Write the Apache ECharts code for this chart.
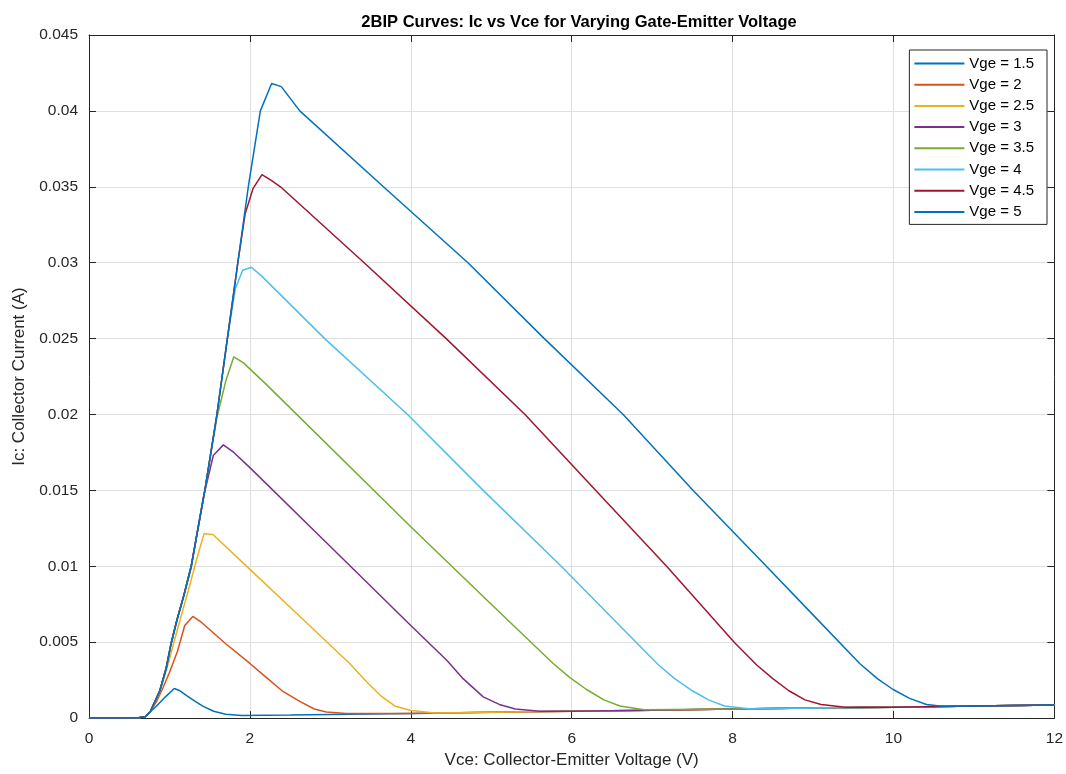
<!DOCTYPE html>
<html>
<head>
<meta charset="utf-8">
<script src="https://cdn.jsdelivr.net/npm/echarts@6/dist/echarts.min.js"></script>
<style>
html,body{margin:0;padding:0;background:#fff;}
#chart{width:1066px;height:774px;}
</style>
</head>
<body>
<div id="chart"></div>
<script>
// ---- Data (Vce [V], Ic [A]) ----
const seriesNames = ['Vge = 1.5','Vge = 2','Vge = 2.5','Vge = 3','Vge = 3.5','Vge = 4','Vge = 4.5','Vge = 5'];
const seriesColors = ['#0072BD','#D95319','#EDB120','#7E2F8E','#77AC30','#4DBEEE','#A2142F','#0072BD'];
const xTicks = [0, 2, 4, 6, 8, 10, 12];
const yTicks = [0, 0.005, 0.01, 0.015, 0.02, 0.025, 0.03, 0.035, 0.04, 0.045];

const vge15 = [[0,0],[0.6,0],[0.7,0.0001],[0.76,0.0004],[0.84,0.0008],[0.95,0.0014],[1.06,0.00195],[1.13,0.0018],[1.21,0.0015],[1.32,0.0011],[1.42,0.00077],[1.55,0.00045],[1.7,0.00025],[1.9,0.00017],[2.5,0.0002],[3,0.00024],[4,0.00031],[5,0.00038],[6,0.00045],[7,0.00052],[8,0.0006],[9,0.00066],[10,0.00072],[11,0.0008],[12,0.00087]];
const vge20 = [[0,0],[0.6,0],[0.7,0.0001],[0.76,0.0004],[0.84,0.0011],[0.92,0.002],[1.0,0.003],[1.1,0.0044],[1.19,0.0061],[1.29,0.0067],[1.4,0.0063],[1.7,0.0049],[2.0,0.0036],[2.2,0.0027],[2.4,0.0018],[2.62,0.0011],[2.8,0.0006],[2.95,0.0004],[3.2,0.0003],[4,0.00031],[5,0.00038],[6,0.00045],[7,0.00052],[8,0.0006],[9,0.00066],[10,0.00072],[11,0.0008],[12,0.00087]];
const vge25 = [[0,0],[0.6,0],[0.7,0.0001],[0.76,0.0004],[0.88,0.0017],[0.97,0.0033],[1.05,0.0049],[1.15,0.0068],[1.25,0.0087],[1.34,0.0105],[1.43,0.01215],[1.54,0.0121],[2.0,0.0098],[2.5,0.0073],[3.0,0.0048],[3.24,0.0036],[3.45,0.0024],[3.62,0.0015],[3.8,0.0008],[4.0,0.0005],[4.3,0.00034],[5,0.00038],[6,0.00045],[7,0.00052],[8,0.0006],[9,0.00066],[10,0.00072],[11,0.0008],[12,0.00087]];
const vge30 = [[0,0],[0.6,0],[0.7,0.0001],[0.76,0.0004],[0.88,0.0018],[0.96,0.0033],[1.02,0.0049],[1.09,0.0064],[1.18,0.0081],[1.27,0.0099],[1.42,0.0145],[1.545,0.0173],[1.67,0.018],[1.8,0.0175],[2.0,0.0165],[3.0,0.0113],[4.0,0.0061],[4.45,0.0038],[4.65,0.0026],[4.9,0.0014],[5.1,0.0009],[5.3,0.0006],[5.6,0.00045],[6,0.00045],[7,0.00052],[8,0.0006],[9,0.00066],[10,0.00072],[11,0.0008],[12,0.00087]];
const vge35 = [[0,0],[0.6,0],[0.7,0.0001],[0.76,0.0004],[0.88,0.0018],[0.96,0.0033],[1.02,0.0049],[1.09,0.0064],[1.18,0.0081],[1.27,0.01],[1.44,0.015],[1.59,0.0198],[1.7,0.0222],[1.8,0.0238],[1.92,0.0234],[2.2,0.022],[4.0,0.0126],[5.0,0.0075],[5.77,0.0036],[5.97,0.0027],[6.18,0.0019],[6.4,0.0012],[6.6,0.0008],[6.9,0.00055],[8,0.0006],[9,0.00066],[10,0.00072],[11,0.0008],[12,0.00087]];
const vge40 = [[0,0],[0.6,0],[0.7,0.0001],[0.76,0.0004],[0.88,0.0018],[0.96,0.0033],[1.02,0.0049],[1.09,0.0064],[1.18,0.0081],[1.27,0.01],[1.44,0.015],[1.59,0.02],[1.72,0.025],[1.82,0.0283],[1.91,0.0295],[2.02,0.0297],[2.15,0.0291],[2.93,0.025],[3.96,0.02],[4.9,0.015],[5.87,0.01],[6.8,0.005],[7.08,0.0035],[7.28,0.0026],[7.5,0.0018],[7.7,0.0012],[7.9,0.0008],[8.2,0.00062],[9,0.00066],[10,0.00072],[11,0.0008],[12,0.00087]];
const vge45 = [[0,0],[0.6,0],[0.7,0.0001],[0.76,0.0004],[0.88,0.0018],[0.96,0.0033],[1.02,0.0049],[1.09,0.0064],[1.18,0.0081],[1.27,0.01],[1.44,0.015],[1.59,0.02],[1.72,0.025],[1.85,0.03],[1.94,0.0332],[2.04,0.0349],[2.15,0.0358],[2.27,0.0354],[2.38,0.035],[3.42,0.03],[4.44,0.025],[5.42,0.02],[6.3,0.015],[7.18,0.01],[8.02,0.005],[8.3,0.0035],[8.5,0.0026],[8.7,0.0018],[8.9,0.0012],[9.1,0.0009],[9.4,0.00072],[10,0.00072],[11,0.0008],[12,0.00087]];
const vge50 = [[0,0],[0.6,0],[0.7,0.0001],[0.76,0.0004],[0.88,0.0018],[0.96,0.0033],[1.02,0.0049],[1.09,0.0064],[1.18,0.0081],[1.27,0.01],[1.44,0.015],[1.59,0.02],[1.72,0.025],[1.85,0.03],[1.98,0.035],[2.13,0.04],[2.27,0.0418],[2.39,0.0416],[2.62,0.04],[3.66,0.035],[4.71,0.03],[5.66,0.025],[6.64,0.02],[7.51,0.015],[8.42,0.01],[9.0,0.0068],[9.58,0.0036],[9.8,0.0026],[9.99,0.0019],[10.2,0.0013],[10.41,0.0009],[10.6,0.00078],[11,0.0008],[12,0.00087]];

const allData = [vge15, vge20, vge25, vge30, vge35, vge40, vge45, vge50];

// ---- Chart ----
const FONT = "'Liberation Sans', Arial, Helvetica, sans-serif";
const AX = '#262626';
const GRIDC = '#dfdfdf';

const chart = echarts.init(document.getElementById('chart'), null, {renderer: 'canvas'});

function fmt(v){ return String(parseFloat(v.toFixed(4))); }

const baseX = {
  type: 'value', min: xTicks[0], max: xTicks[xTicks.length-1], interval: xTicks[1]-xTicks[0],
  axisLine: {show: true, onZero: false, lineStyle: {color: AX, width: 1}},
  axisTick: {show: true, inside: true, length: 7, lineStyle: {color: AX}},
};
const baseY = {
  type: 'value', min: yTicks[0], max: yTicks[yTicks.length-1], interval: yTicks[1]-yTicks[0],
  axisLine: {show: true, onZero: false, lineStyle: {color: AX, width: 1}},
  axisTick: {show: true, inside: true, length: 7, lineStyle: {color: AX}},
};

chart.setOption({
  animation: false,
  backgroundColor: '#fff',
  title: {
    text: '2BIP Curves: Ic vs Vce for Varying Gate-Emitter Voltage',
    left: 574, top: 9, textAlign: 'center',
    textStyle: {fontFamily: FONT, fontSize: 16.5, fontWeight: 'bold', color: '#000'}
  },
  legend: {
    orient: 'vertical', right: 19, top: 50,
    icon: 'rect', itemWidth: 50, itemHeight: 2, itemGap: 4.2,
    padding: [5, 13, 4, 5],
    backgroundColor: '#fff', borderColor: AX, borderWidth: 1, borderRadius: 0,
    textStyle: {fontFamily: FONT, fontSize: 15, color: '#000', lineHeight: 17},
    data: seriesNames
  },
  grid: {left: 89, right: 11, top: 35, bottom: 54, containLabel: false},
  xAxis: [
    Object.assign({}, baseX, {
      position: 'bottom',
      name: 'Vce: Collector-Emitter Voltage (V)', nameLocation: 'middle', nameGap: 33,
      nameTextStyle: {fontFamily: FONT, fontSize: 17, color: AX},
      axisLabel: {show: true, margin: 13, fontFamily: FONT, fontSize: 15.5, color: AX, formatter: fmt},
      splitLine: {show: true, lineStyle: {color: GRIDC, width: 1}}
    }),
    Object.assign({}, baseX, {
      position: 'top', axisLabel: {show: false}, splitLine: {show: false}
    })
  ],
  yAxis: [
    Object.assign({}, baseY, {
      position: 'left',
      name: 'Ic: Collector Current (A)', nameLocation: 'middle', nameGap: 57, nameRotate: 90,
      nameTextStyle: {fontFamily: FONT, fontSize: 17, color: AX},
      axisLabel: {show: true, margin: 11, fontFamily: FONT, fontSize: 15.5, color: AX, formatter: fmt},
      splitLine: {show: true, lineStyle: {color: GRIDC, width: 1}}
    }),
    Object.assign({}, baseY, {
      position: 'right', axisLabel: {show: false}, splitLine: {show: false}
    })
  ],
  series: allData.map((d, i) => ({
    name: seriesNames[i],
    type: 'line',
    xAxisIndex: 0, yAxisIndex: 0,
    data: d,
    showSymbol: false,
    symbol: 'none',
    smooth: false,
    color: seriesColors[i],
    lineStyle: {width: 1.5, color: seriesColors[i]},
    emphasis: {disabled: true},
    z: 2 + i
  }))
});
</script>
</body>
</html>
